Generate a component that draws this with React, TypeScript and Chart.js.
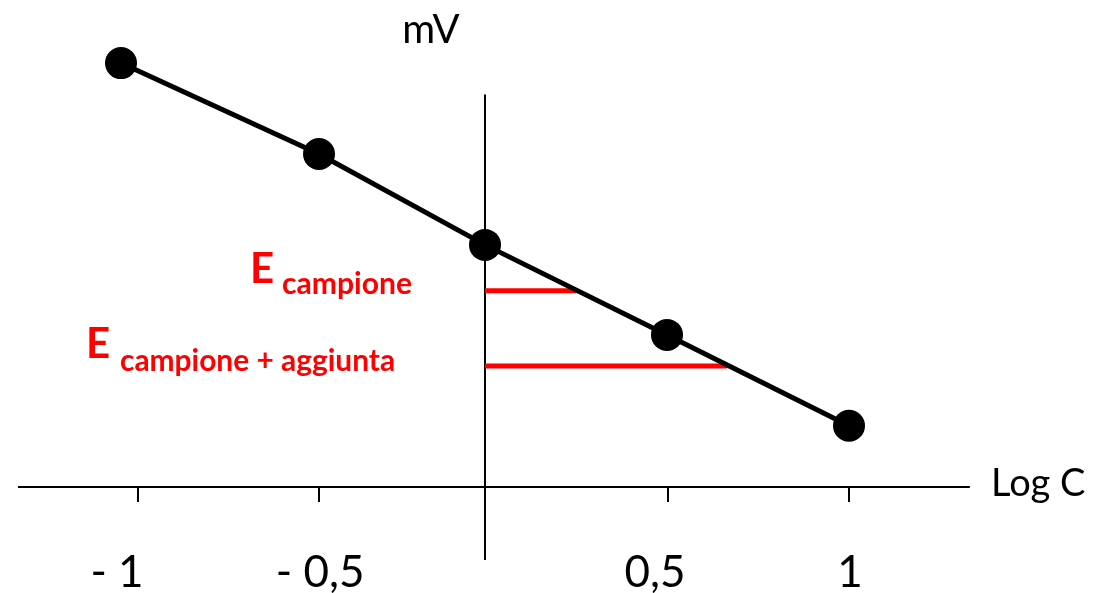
import React, { useEffect, useRef } from "react";
import { Chart, registerables } from "chart.js";

Chart.register(...registerables);

// Calibration curve (Log C vs mV)
const logC = [-1, -0.456, 0, 0.5, 1];
const mV = [4.71, 3.7, 2.69, 1.69, 0.68];

// Red guide lines: E campione and E campione + aggiunta
const eCampione = 2.18;
const eCampioneX = 0.253;
const eAggiunta = 1.344;
const eAggiuntaX = 0.665;

// Axis extents
const xAxisRange = [-1.283, 1.332];
const yAxisRange = [-0.81, 4.36];

// Tick marks and labels
const tickValues = [-0.953, -0.456, 0.503, 1];
const tickLabelValues = [-1.011, -0.453, 0.467, 1.003];
const tickLabels = ["- 1", "- 0,5", "0,5", "1"];

const FONT = "Lato, 'Open Sans', sans-serif";

const overlay = {
  id: "overlay",
  afterDraw(chart: any) {
    const ctx = chart.ctx;
    const xs = chart.scales.x;
    const ys = chart.scales.y;
    const y0 = ys.getPixelForValue(0);
    ctx.save();
    // tick marks
    ctx.strokeStyle = "#000";
    ctx.lineWidth = 2;
    tickValues.forEach((v) => {
      const px = Math.round(xs.getPixelForValue(v));
      ctx.beginPath();
      ctx.moveTo(px, y0);
      ctx.lineTo(px, y0 + 15);
      ctx.stroke();
    });
    // tick labels
    ctx.fillStyle = "#000";
    ctx.font = `44px ${FONT}`;
    ctx.textAlign = "center";
    ctx.textBaseline = "alphabetic";
    tickLabels.forEach((t, i) => {
      ctx.fillText(t, xs.getPixelForValue(tickLabelValues[i]), 587);
    });
    // axis titles
    ctx.font = `40px ${FONT}`;
    ctx.textAlign = "center";
    ctx.fillText("mV", 431, 43);
    ctx.font = `38px ${FONT}`;
    ctx.textAlign = "left";
    ctx.fillText("Log C", 991, 496);
    // red labels
    ctx.fillStyle = "#ff0000";
    ctx.textAlign = "left";
    const drawLabel = (x: number, yE: number, sub: string, subX: number, subY: number, subW: number) => {
      ctx.font = `bold 42px ${FONT}`;
      ctx.fillText("E", x, yE);
      ctx.font = `bold 28px ${FONT}`;
      const w = ctx.measureText(sub).width;
      const size = (28 * subW) / w;
      ctx.font = `bold ${size.toFixed(1)}px ${FONT}`;
      ctx.fillText(sub, subX, subY);
    };
    drawLabel(250, 283, "campione", 282, 294, 130);
    drawLabel(86, 358, "campione + aggiunta", 120, 371, 275);
    ctx.restore();
  },
};

export default function App() {
  const ref = useRef<HTMLCanvasElement>(null);
  useEffect(() => {
    if (!ref.current) return;
    const chart = new Chart(ref.current, {
      type: "scatter",
      data: {
        datasets: [
          {
            data: logC.map((x, i) => ({ x, y: mV[i] })),
            showLine: true,
            borderColor: "#000",
            backgroundColor: "#000",
            borderWidth: 5,
            pointRadius: 16,
            pointHoverRadius: 16,
            pointBackgroundColor: "#000",
            pointBorderWidth: 0,
            order: 0,
          },
          {
            data: [
              { x: 0, y: eCampione },
              { x: eCampioneX, y: eCampione },
            ],
            showLine: true,
            borderColor: "#ff0000",
            borderWidth: 5,
            pointRadius: 0,
            order: 1,
          },
          {
            data: [
              { x: 0, y: eAggiunta },
              { x: eAggiuntaX, y: eAggiunta },
            ],
            showLine: true,
            borderColor: "#ff0000",
            borderWidth: 5,
            pointRadius: 0,
            order: 1,
          },
          {
            data: [
              { x: xAxisRange[0], y: 0 },
              { x: xAxisRange[1], y: 0 },
            ],
            showLine: true,
            borderColor: "#000",
            borderWidth: 2,
            pointRadius: 0,
            order: 2,
          },
          {
            data: [
              { x: 0, y: yAxisRange[0] },
              { x: 0, y: yAxisRange[1] },
            ],
            showLine: true,
            borderColor: "#000",
            borderWidth: 2,
            pointRadius: 0,
            order: 2,
          },
        ],
      },
      options: {
        animation: false,
        responsive: false,
        maintainAspectRatio: false,
        layout: { padding: 0, autoPadding: false },
        plugins: { legend: { display: false }, tooltip: { enabled: false } },
        events: [],
        scales: {
          x: { type: "linear", display: false, min: -485 / 364, max: (1095 - 485) / 364 },
          y: { type: "linear", display: false, min: (487 - 593) / 90, max: 487 / 90 },
        },
      },
      plugins: [overlay],
    });
    return () => chart.destroy();
  }, []);
  return (
    <div style={{ position: "fixed", left: 0, top: 0, width: 1095, height: 593, background: "#fff" }}>
      <canvas ref={ref} width={1095} height={593} style={{ display: "block", width: 1095, height: 593 }} />
    </div>
  );
}
